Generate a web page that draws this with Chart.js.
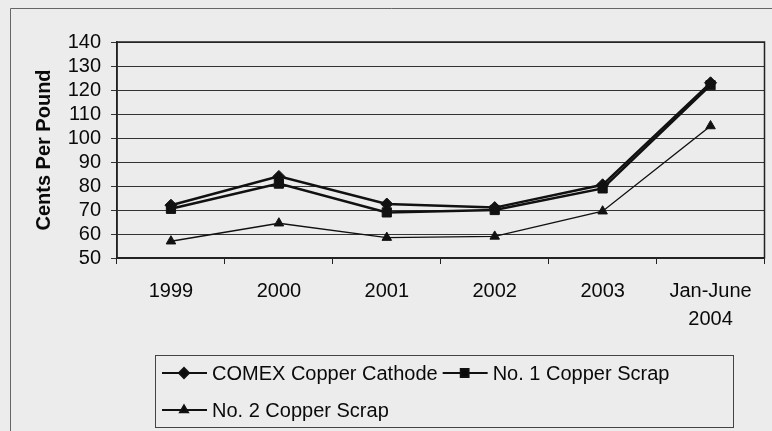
<!DOCTYPE html>
<html>
<head>
<title>Copper prices</title>
<style>
  body { margin: 0; background: #ececec; }
  #wrap { width: 772px; height: 431px; }
</style>
</head>
<body>
<div id="wrap"><canvas id="myChart" width="772" height="431"></canvas></div>
<script src="https://cdn.jsdelivr.net/npm/chart.js@4"></script>
<script>
const years = [['1999'], ['2000'], ['2001'], ['2002'], ['2003'], ['Jan-June', '2004']];
const comexCathode = [72, 84, 72.5, 71, 80.5, 123];
const scrapNo1 = [70.5, 81, 69, 70, 79, 122];
const scrapNo2 = [57, 64.5, 58.5, 59, 69.5, 105];
const yTicks = { min: 50, max: 140, step: 10 };

const font = 'Liberation Sans, Arial, sans-serif';

// frame around everything, box around plot and the two-row legend
const framePlugin = {
  id: 'frame',
  beforeDraw(chart) {
    const ctx = chart.ctx;
    ctx.save();
    ctx.strokeStyle = '#666';
    ctx.lineWidth = 1;
    ctx.beginPath();
    ctx.moveTo(10.5, 431);
    ctx.lineTo(10.5, 8.5);
    ctx.lineTo(772, 8.5);
    ctx.stroke();
    ctx.restore();
  },
  afterDatasetsDraw(chart) {
    const ctx = chart.ctx, a = chart.chartArea;
    ctx.save();
    ctx.strokeStyle = '#222';
    ctx.lineWidth = 1.5;
    ctx.strokeRect(a.left, a.top, a.right - a.left, a.bottom - a.top);
    ctx.restore();
  },
  afterDraw(chart) {
    const ctx = chart.ctx;
    ctx.save();
    ctx.strokeStyle = '#444';
    ctx.lineWidth = 1;
    ctx.strokeRect(155.5, 355.5, 578, 72);
    ctx.font = '20px ' + font;
    ctx.textBaseline = 'middle';
    ctx.fillStyle = '#0a0a0a';
    const rows = [[0, 1], [2]];
    const rowY = [373, 410];
    rows.forEach((row, ri) => {
      let x = 162;
      row.forEach(i => {
        const ds = chart.data.datasets[i];
        const y = rowY[ri];
        ctx.strokeStyle = '#111';
        ctx.lineWidth = 2;
        ctx.beginPath();
        ctx.moveTo(x, y);
        ctx.lineTo(x + 45, y);
        ctx.stroke();
        Chart.helpers.drawPoint(ctx, {
          pointStyle: ds.pointStyle, radius: ds.pointRadius - 1, borderWidth: 1
        }, x + 22, y);
        x += 50;
        ctx.fillText(ds.label, x, y + 1);
        x += ctx.measureText(ds.label).width + 5;
      });
    });
    ctx.restore();
  }
};

const ctx = document.getElementById('myChart').getContext('2d');
new Chart(ctx, {
  type: 'line',
  data: {
    labels: years,
    datasets: [
      { label: 'COMEX Copper Cathode', data: comexCathode, pointStyle: 'rectRot', pointRadius: 6, borderWidth: 2.5 },
      { label: 'No. 1 Copper Scrap', data: scrapNo1, pointStyle: 'rect', pointRadius: 6.5, borderWidth: 2.5 },
      { label: 'No. 2 Copper Scrap', data: scrapNo2, pointStyle: 'triangle', pointRadius: 5.5, borderWidth: 1.4 }
    ].map(d => Object.assign(d, {
      borderColor: '#111', backgroundColor: '#111',
      pointBackgroundColor: '#111', pointBorderColor: '#111', pointBorderWidth: 1,
      tension: 0, fill: false
    }))
  },
  options: {
    responsive: false,
    animation: false,
    layout: { padding: { left: 0, top: 42, right: 5, bottom: 0 } },
    plugins: { legend: { display: false }, tooltip: { enabled: false } },
    scales: {
      x: {
        offset: true,
        grid: { offset: true, drawOnChartArea: false, color: '#222', tickLength: 6 },
        border: { color: '#222', width: 1.5 },
        ticks: { color: '#0a0a0a', font: { family: font, size: 20, lineHeight: 1.4 }, padding: 13, maxRotation: 0, autoSkip: false },
        afterFit(s) { s.height = 173; }
      },
      y: {
        min: yTicks.min, max: yTicks.max,
        grid: { color: '#333', lineWidth: 1, tickLength: 6 },
        border: { color: '#222', width: 1.5 },
        ticks: { stepSize: yTicks.step, autoSkip: false, color: '#0a0a0a', font: { family: font, size: 20 }, padding: 10 },
        title: {
          display: true, text: 'Cents Per Pound', color: '#0a0a0a',
          font: { family: font, size: 20, weight: 'bold' }, padding: { top: 32 }
        },
        afterFit(s) { s.width = 117; }
      }
    }
  },
  plugins: [framePlugin]
});
</script>
</body>
</html>
